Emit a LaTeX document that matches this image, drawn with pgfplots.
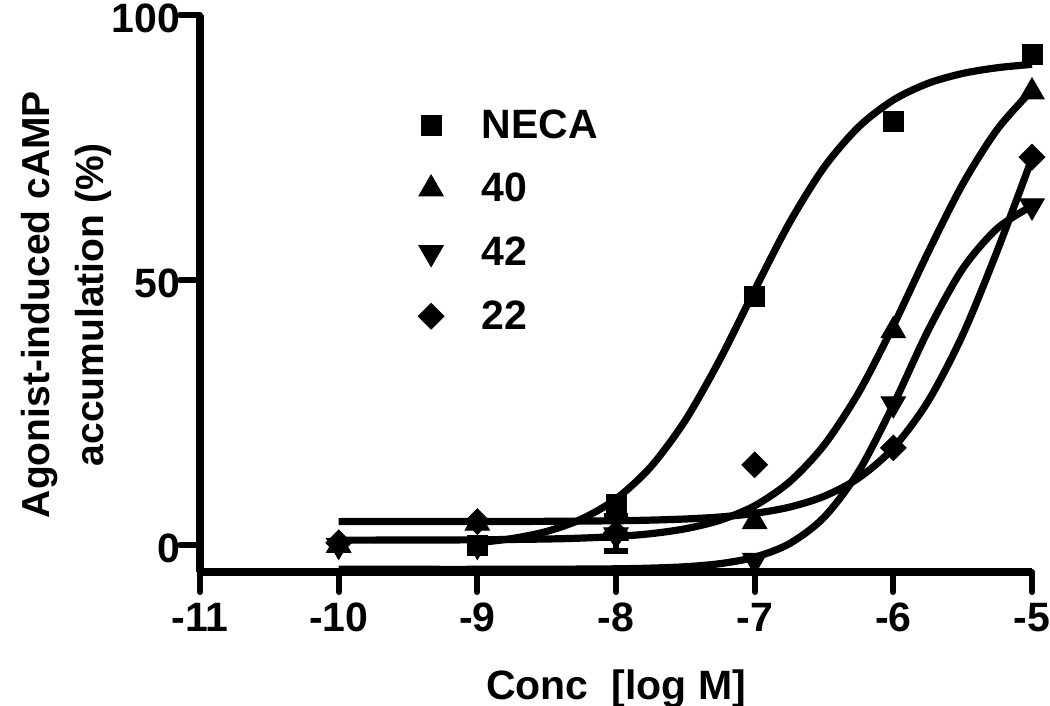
\documentclass[border=0pt]{standalone}
\usepackage{fontspec}
\setmainfont{Liberation Sans}
\usepackage{pgfplots}
\pgfplotsset{compat=1.18}
\newcommand{\gfont}{\fontsize{20.5}{27}\selectfont\bfseries}
\newcommand{\yfont}{\fontsize{19.5}{27}\selectfont\bfseries}
\begin{document}
\begin{tikzpicture}
\path[use as bounding box] (0,0) rectangle (525pt,353pt);
\begin{axis}[
  at={(100pt,67pt)}, anchor=south west,
  scale only axis, width=416pt, height=278.5pt,
  xmin=-11, xmax=-5, ymin=-5, ymax=100,
  clip=false,
  axis x line*=bottom, axis y line*=left,
  axis line style={line width=4pt},
  xtick={-11,-10,-9,-8,-7,-6,-5},
  xticklabels={-11,-10,-9,-8,-7,-6,-5},
  ytick={0,50,100}, yticklabels={0,50,100},
  tick align=outside, major tick length=10pt,
  tick style={line width=3pt, black, line cap=round},
  ticklabel style={font=\gfont},
  yticklabel style={xshift=3.5pt, yshift=-1.6pt},
  xticklabel style={yshift=-2pt},
  xlabel={Conc\ \ [log M]},
  xlabel style={font=\gfont, at={(axis description cs:0.5,0)}, anchor=base, yshift=-64pt},
  ylabel={Agonist-induced cAMP\\accumulation (\%)},
  ylabel style={font=\yfont, align=center, at={(axis description cs:-0.161,0.48)}, anchor=center, rotate=0},
  legend style={draw=none, fill=none, at={(axis description cs:0.262,0.831)}, anchor=north west,
    font=\gfont, inner sep=0pt, row sep=16pt, nodes={inner sep=0pt},
    /tikz/every odd column/.append style={column sep=19pt}},
  legend cell align=left,
  legend image code/.code={\draw[#1] plot coordinates {(0pt,0pt)};},
  every axis plot/.append style={black},
]
% fitted curves
\addplot[forget plot, line width=3.6pt, smooth, line join=round] coordinates {
(-9,0.52) (-8.75,1.30) (-8.5,2.65) (-8.25,4.96) (-8,8.78) (-7.75,14.80) (-7.5,23.60) (-7.25,35.09) (-7,48.15) (-6.75,60.79) (-6.5,71.27) (-6.25,78.91) (-6,83.97) (-5.75,87.11) (-5.5,88.98) (-5.25,90.06) (-5,90.69)};
\addplot[forget plot, line width=3.6pt, smooth, line join=round] coordinates {
(-10,1.01) (-9.5,1.02) (-9,1.07) (-8.5,1.22) (-8.25,1.39) (-8,1.69) (-7.75,2.22) (-7.5,3.15) (-7.25,4.76) (-7,7.48) (-6.75,11.96) (-6.5,18.90) (-6.25,28.82) (-6,41.42) (-5.75,55.22) (-5.5,68.11) (-5.25,78.45) (-5,85.81)};
\addplot[forget plot, line width=3.6pt, smooth, line join=round] coordinates {
(-10,-4.50) (-9.5,-4.50) (-9,-4.50) (-8.5,-4.48) (-8,-4.40) (-7.75,-4.27) (-7.5,-4.01) (-7.25,-3.43) (-7,-2.21) (-6.75,0.33) (-6.5,5.30) (-6.25,13.97) (-6,26.51) (-5.75,40.48) (-5.5,52.16) (-5.25,59.78) (-5,64.00)};
\addplot[forget plot, line width=3.6pt, smooth, line join=round] coordinates {
(-10,4.50) (-9,4.52) (-8.5,4.55) (-8,4.66) (-7.75,4.78) (-7.5,4.99) (-7.25,5.37) (-7,6.05) (-6.75,7.22) (-6.5,9.26) (-6.25,12.72) (-6,18.38) (-5.75,27.16) (-5.5,39.69) (-5.25,55.59) (-5,72.97)};
% data points
\addplot[only marks, mark=square*, mark size=5pt, mark options={line width=0.5pt}] coordinates {
(-9,0) (-8,7.7) (-7,47) (-6,80) (-5,92.5)};
\addlegendentry{NECA}
\addplot[only marks, mark=triangle*, mark size=7pt, mark options={line width=0.5pt}] coordinates {
(-10,0) (-9,4.2) (-8,2.3) (-7,4.5) (-6,40.5) (-5,85.5)};
\addlegendentry{40}
\addplot[only marks, mark=triangle*, mark size=7pt, mark options={line width=0.5pt, rotate=180}] coordinates {
(-10,0) (-9,0) (-8,2) (-7,-2.8) (-6,26.7) (-5,64)};
\addlegendentry{42}
\addplot[only marks, mark=square*, mark size=4.5pt, mark options={line width=0.5pt, rotate=45},
  error bars/.cd, y dir=both, y explicit,
  error bar style={line width=3pt},
  error mark options={line width=3pt, mark size=6pt, rotate=90}] coordinates {
(-10,0.5) (-9,4.5) (-8,2.3) +- (0,3.3) (-7,15.2) (-6,18.4) (-5,73.2)};
\addlegendentry{22}
\end{axis}
\end{tikzpicture}
\end{document}
